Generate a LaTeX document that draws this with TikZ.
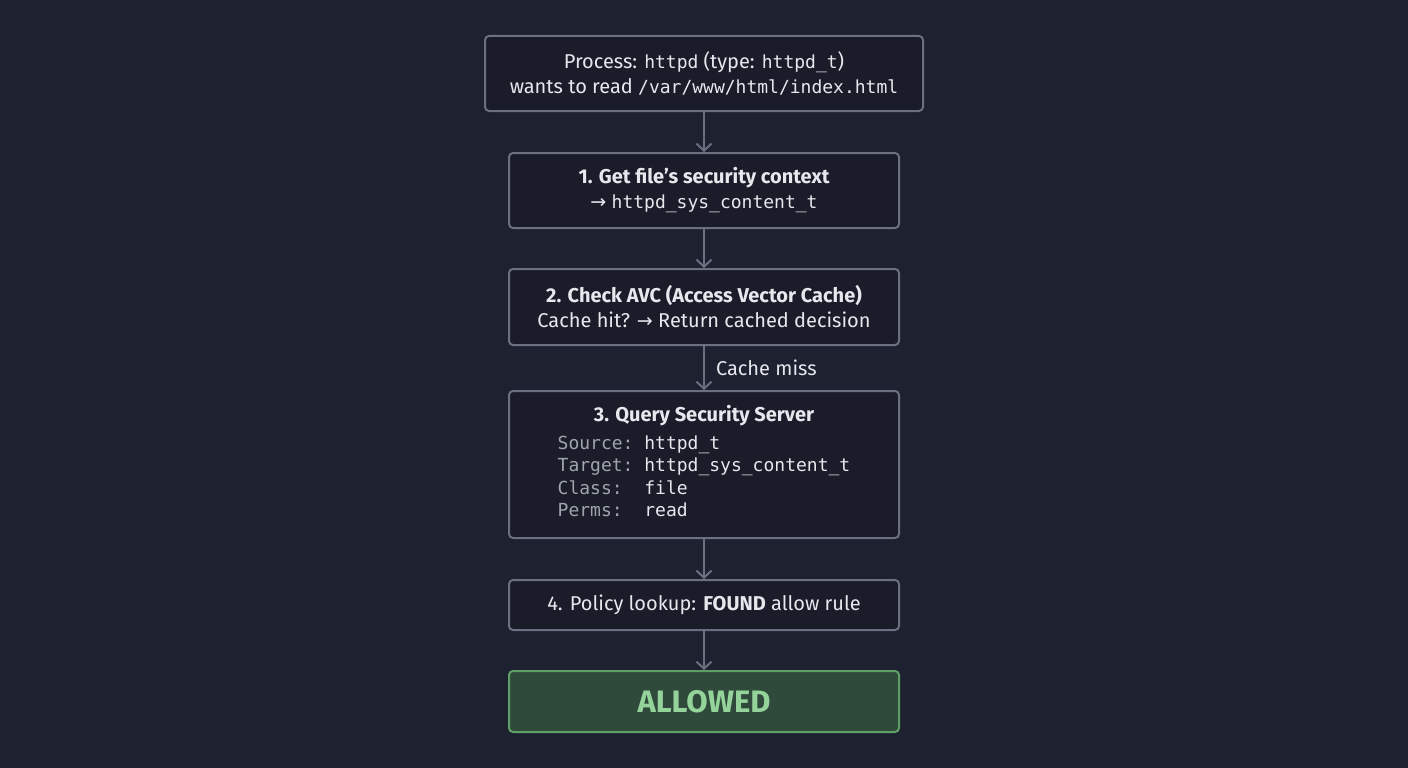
\documentclass[tikz,border=0pt]{standalone}
\usepackage{fontspec}
\setmainfont{Fira Sans}
\setmonofont{DejaVu Sans Mono}
\newfontfamily\symfont{DejaVu Sans}
\usetikzlibrary{arrows.meta,positioning}

\definecolor{bgcol}{HTML}{1E2130}
\definecolor{boxcol}{HTML}{1A1D29}
\definecolor{edgecol}{HTML}{6B7080}
\definecolor{txtcol}{HTML}{E6E8EE}
\definecolor{keycol}{HTML}{A0A4AD}
\definecolor{okfill}{HTML}{2F4A3B}
\definecolor{okedge}{HTML}{5E9E67}
\definecolor{oktext}{HTML}{94D39A}

\newcommand{\code}[1]{{\fontsize{18}{25}\selectfont\ttfamily #1}}
\newcommand{\rarr}{{\symfont\fontsize{19}{25}\selectfont →}}

\tikzset{
  stepbox/.style={draw=edgecol, line width=2pt, rounded corners=4pt, fill=boxcol,
    text=txtcol, minimum width=390pt, align=center, inner sep=0pt,
    font=\fontsize{20}{25}\selectfont},
  okbox/.style={stepbox, draw=okedge, fill=okfill, text=oktext,
    font=\fontsize{31}{36}\selectfont\bfseries},
  flow/.style={draw=edgecol, line width=2pt, -{Straight Barb[length=7pt,width=15pt]}}
}

\begin{document}
\begin{tikzpicture}[x=1pt,y=-1pt]
  \fill[bgcol] (0,0) rectangle (1408,768);
  \useasboundingbox (0,0) rectangle (1408,768);

  % steps of the access check
  \node[stepbox, minimum width=438pt, minimum height=75pt] (proc) at (704,73.5)
    {Process: \code{httpd} (type: \code{httpd\_t})\\
     wants to read \code{/var/www/html/index.html}};
  \node[stepbox, minimum height=75pt] (ctx) at (704,190.5)
    {\bfseries 1. Get file’s security context\\
     \rarr\ \code{httpd\_sys\_content\_t}};
  \node[stepbox, minimum height=76pt] (avc) at (704,307)
    {\bfseries 2. Check AVC (Access Vector Cache)\\
     Cache hit? \rarr\ Return cached decision};
  \node[stepbox, minimum height=147pt] (query) at (704,464.5)
    {\bfseries 3. Query Security Server\\[3pt]
     \fontsize{18}{22.5}\selectfont\ttfamily
     \begin{tabular}[t]{@{}l@{\hspace{10.8pt}}l@{}}
       \textcolor{keycol}{Source:} & httpd\_t\\
       \textcolor{keycol}{Target:} & httpd\_sys\_content\_t\\
       \textcolor{keycol}{Class:}  & file\\
       \textcolor{keycol}{Perms:}  & read
     \end{tabular}};
  \node[stepbox, minimum height=50pt] (rule) at (704,605)
    {4. Policy lookup: \textbf{FOUND} allow rule};
  \node[okbox, minimum height=61pt] (ok) at (704,701.5) {ALLOWED};

  % connectors
  \draw[flow] (proc) -- (ctx);
  \draw[flow] (ctx) -- (avc);
  \draw[flow] (avc) -- node[right=11pt, inner sep=0pt, text=txtcol,
    font=\fontsize{20}{25}\selectfont] {Cache miss} (query);
  \draw[flow] (query) -- (rule);
  \draw[flow] (rule) -- (ok);
\end{tikzpicture}
\end{document}
